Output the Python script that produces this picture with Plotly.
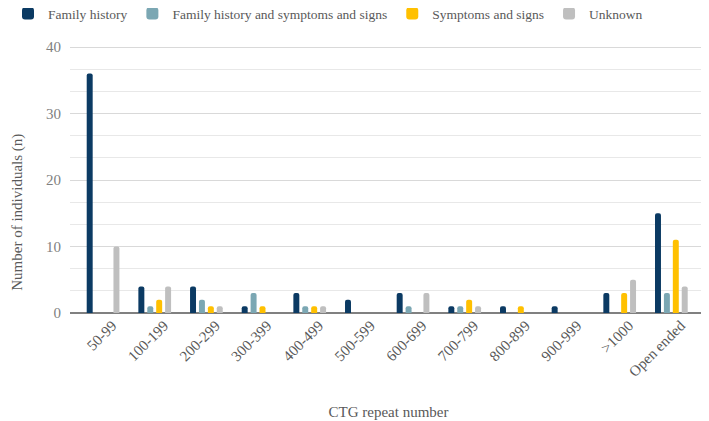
import plotly.graph_objects as go

categories = ["50-99", "100-199", "200-299", "300-399", "400-499", "500-599",
              "600-699", "700-799", "800-899", "900-999", ">1000", "Open ended"]
family_history = [36, 4, 4, 1, 3, 2, 3, 1, 1, 1, 3, 15]
family_history_ss = [0, 1, 2, 3, 1, 0, 1, 1, 0, 0, 0, 3]
symptoms_signs = [0, 2, 1, 1, 1, 0, 0, 2, 1, 0, 3, 11]
unknown = [10, 4, 1, 0, 1, 0, 3, 1, 0, 0, 5, 4]
y_ticks = [0, 10, 20, 30, 40]

series = [
    ("Family history", family_history, "#0B3A63"),
    ("Family history and symptoms and signs", family_history_ss, "#7BA7B3"),
    ("Symptoms and signs", symptoms_signs, "#FFC000"),
    ("Unknown", unknown, "#BFBFBF"),
]

FONT = "Liberation Serif"
TXT = "#595959"
fig = go.Figure()
for name, vals, color in series:
    fig.add_trace(go.Bar(x=list(range(len(categories))), y=vals, name=name,
                         marker=dict(color=color, line=dict(width=0))))

label_shift = 0.18  # tick labels sit slightly right of the group centres

fig.update_layout(
    width=701, height=413,
    margin=dict(l=62, r=2, t=37, b=108, autoexpand=False),
    paper_bgcolor="white", plot_bgcolor="white",
    barmode="group", bargap=0.31, bargroupgap=0.33, barcornerradius=3,
    font=dict(family=FONT, size=15, color=TXT),
    legend=dict(orientation="h", xref="container", yref="paper",
                x=0.0, xanchor="left", y=1.175, yanchor="top",
                font=dict(family=FONT, size=13.5, color=TXT),
                itemwidth=30, tracegroupgap=0),
    xaxis=dict(
        tickmode="array", tickvals=[i + label_shift for i in range(len(categories))],
        ticktext=categories,
        range=[-0.64, 11.69], tickangle=-45, showgrid=False, zeroline=False,
        showline=False, ticks="", automargin=False,
        tickfont=dict(family=FONT, size=15, color=TXT),
        title=dict(text="CTG repeat number", font=dict(family=FONT, size=15, color=TXT),
                   standoff=27),
    ),
    yaxis=dict(
        range=[0, 40.3], tickvals=y_ticks, showgrid=True,
        gridcolor="#D9D9D9", gridwidth=1,
        minor=dict(dtick=10/3, tick0=0, showgrid=True, gridcolor="#E8E8E8", gridwidth=1),
        zeroline=True, zerolinecolor="#808080", zerolinewidth=2,
        showline=False, ticks="", ticklabelstandoff=8, automargin=False,
        tickfont=dict(family=FONT, size=15, color="#7F7F7F"),
    ),
    annotations=[dict(
        text="Number of individuals (n)", textangle=-90,
        xref="paper", x=-0.082, xanchor="center",
        yref="paper", y=0.377, yanchor="middle",
        showarrow=False, font=dict(family=FONT, size=15, color=TXT),
    )],
)

fig.write_html("out.html")
